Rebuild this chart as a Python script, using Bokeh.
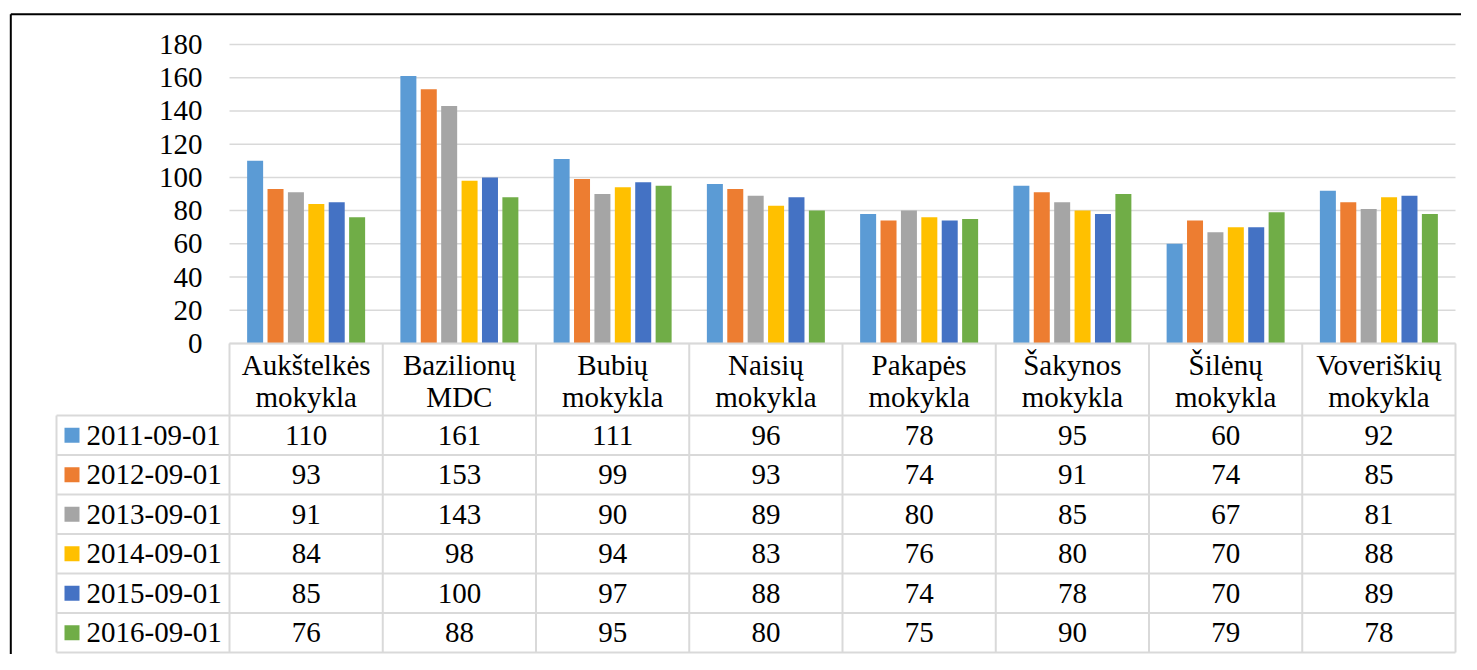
from bokeh.plotting import figure
from bokeh.models import Range1d
from bokeh.core.properties import value
from bokeh.embed import file_html
from bokeh.resources import INLINE

# ---------------- data ----------------
categories = ["Aukštelkės mokykla", "Bazilionų MDC", "Bubių mokykla", "Naisių mokykla",
              "Pakapės mokykla", "Šakynos mokykla", "Šilėnų mokykla", "Voveriškių mokykla"]
series_names = ["2011-09-01", "2012-09-01", "2013-09-01", "2014-09-01", "2015-09-01", "2016-09-01"]
s2011 = [110, 161, 111, 96, 78, 95, 60, 92]
s2012 = [93, 153, 99, 93, 74, 91, 74, 85]
s2013 = [91, 143, 90, 89, 80, 85, 67, 81]
s2014 = [84, 98, 94, 83, 76, 80, 70, 88]
s2015 = [85, 100, 97, 88, 74, 78, 70, 89]
s2016 = [76, 88, 95, 80, 75, 90, 79, 78]
series_values = [s2011, s2012, s2013, s2014, s2015, s2016]
y_ticks = [0, 20, 40, 60, 80, 100, 120, 140, 160, 180]
colors = ["#5B9BD5", "#ED7D31", "#A5A5A5", "#FFC000", "#4472C4", "#70AD47"]

# ---------------- layout constants ----------------
W, H = 1461, 654
PX_CAT = 153.25            # pixels per category
PX_UNIT = 299.0 / 180.0    # pixels per value unit
X0_PX = 229                # figure px of category origin
Y0_PX = 343                # figure px of value 0
HEADER_PX = 72
ROW_PX = 39.5
FONT = "Liberation Serif"
FS = "29px"
GRID = "#D9D9D9"

def xu(px):
    return (px - X0_PX) / PX_CAT

def yu_below(px):   # px below the zero line -> data units
    return -px / PX_UNIT

ncat = len(categories)
nser = len(series_names)

p = figure(width=W, height=H, output_backend="svg", toolbar_location=None,
           x_range=Range1d(-X0_PX / PX_CAT, (W - X0_PX) / PX_CAT),
           y_range=Range1d(-(H - Y0_PX) / PX_UNIT, Y0_PX / PX_UNIT),
           x_axis_location=None, y_axis_location=None, min_border=0)
p.outline_line_color = None
p.xgrid.visible = False
p.ygrid.visible = False
p.background_fill_color = "white"
p.border_fill_color = "white"

# outer frame (black)
top_y = (Y0_PX - 13.7) / PX_UNIT
left_x = xu(10.3)
p.segment(x0=[left_x], y0=[top_y], x1=[left_x], y1=[-300], line_color="black", line_width=2)
p.segment(x0=[left_x], y0=[top_y], x1=[20], y1=[top_y], line_color="black", line_width=2)

# gridlines
p.segment(x0=[0] * len(y_ticks), x1=[ncat] * len(y_ticks), y0=y_ticks, y1=y_ticks,
          line_color=GRID, line_width=1.5)

# y tick labels
p.text(x=[xu(202)] * len(y_ticks), y=y_ticks, text=[str(t) for t in y_ticks],
       text_font=value(FONT), text_font_size=FS, text_color="black",
       text_align="right", text_baseline="alphabetic", y_offset=0)

# bars
pitch = 20.4 / PX_CAT
bw = 16.0 / PX_CAT
for k in range(nser):
    xs = [i + 0.5 + (k - (nser - 1) / 2) * pitch for i in range(ncat)]
    p.vbar(x=xs, top=series_values[k], bottom=0, width=bw,
           fill_color=colors[k], line_color=None)

# ---------------- data table ----------------
data_top = yu_below(HEADER_PX)
row_h = ROW_PX / PX_UNIT
bottom = data_top - nser * row_h
leg_left = xu(56)

# horizontal lines
p.segment(x0=[0], x1=[ncat], y0=[0], y1=[0], line_color=GRID, line_width=2)
hy = [data_top - r * row_h for r in range(nser + 1)]
p.segment(x0=[leg_left] * len(hy), x1=[ncat] * len(hy), y0=hy, y1=hy,
          line_color=GRID, line_width=2)
# vertical lines
vx = list(range(ncat + 1))
p.segment(x0=vx, x1=vx, y0=[0] * len(vx), y1=[bottom] * len(vx), line_color=GRID, line_width=2)
p.segment(x0=[leg_left], x1=[leg_left], y0=[data_top], y1=[bottom], line_color=GRID, line_width=2)

# header (category names, two lines)
line1 = [c.split(" ", 1)[0] for c in categories]
line2 = [c.split(" ", 1)[1] for c in categories]
cx = [i + 0.5 for i in range(ncat)]
p.text(x=cx, y=[0] * ncat, text=line1, text_font=value(FONT), text_font_size=FS,
       text_color="black", text_align="center", text_baseline="alphabetic", y_offset=21)
p.text(x=cx, y=[0] * ncat, text=line2, text_font=value(FONT), text_font_size=FS,
       text_color="black", text_align="center", text_baseline="alphabetic", y_offset=53)

# rows
for k in range(nser):
    yc = data_top - (k + 0.5) * row_h
    p.text(x=cx, y=[yc] * ncat, text=[str(v) for v in series_values[k]],
           text_font=value(FONT), text_font_size=FS, text_color="black",
           text_align="center", text_baseline="alphabetic", y_offset=0)
    p.scatter(x=[xu(71.5)], y=[yc], marker="square", size=15,
              fill_color=colors[k], line_color=None)
    p.text(x=[xu(86)], y=[yc], text=[series_names[k]], text_font=value(FONT),
           text_font_size=FS, text_color="black", text_align="left",
           text_baseline="alphabetic", y_offset=0)

open("out.html", "w").write(file_html(p, INLINE))
